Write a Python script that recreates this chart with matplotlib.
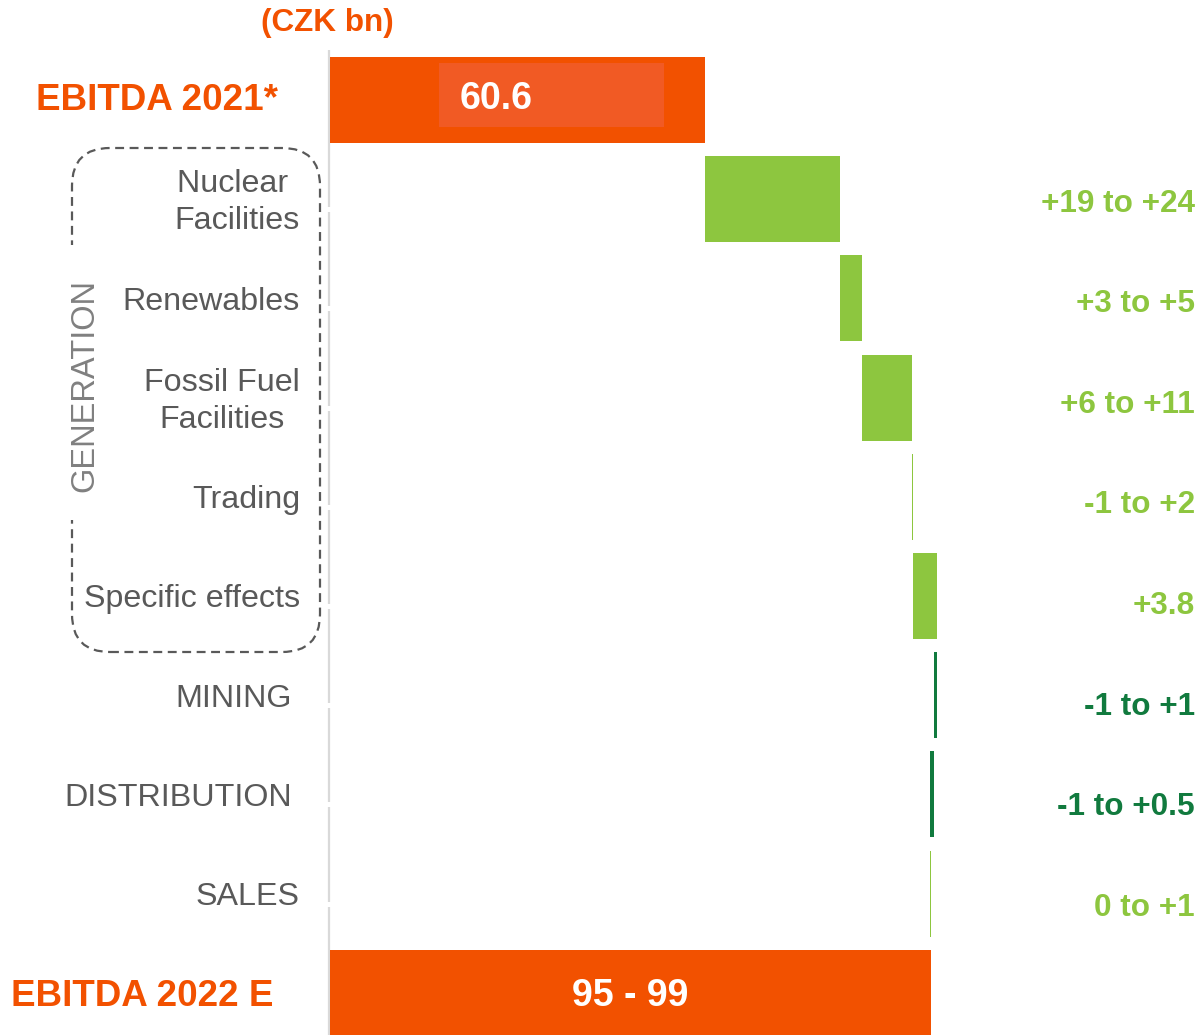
import matplotlib.pyplot as plt
from matplotlib.patches import FancyBboxPatch, Rectangle
from matplotlib.transforms import IdentityTransform

plt.rcParams['font.family'] = ['Liberation Sans', 'DejaVu Sans']

# data (CZK bn)
categories = ["EBITDA 2021*", "Nuclear \nFacilities", "Renewables", "Fossil Fuel\nFacilities",
              "Trading", "Specific effects", "MINING", "DISTRIBUTION", "SALES", "EBITDA 2022 E"]
start_value = 60.6
deltas = [21.8, 3.5, 8.1, 0.2, 3.9, -0.6, -0.6, 0.2]
end_value = 97.1
range_labels = ["+19 to +24", "+3 to +5", "+6 to +11", "-1 to +2", "+3.8",
                "-1 to +1", "-1 to +0.5", "0 to +1"]
total_labels = ["60.6", "95 - 99"]

ORANGE = "#F25100"
LIGHT_GREEN = "#8DC63F"
DARK_GREEN = "#117A3E"
GREY = "#595959"

delta_colors = [LIGHT_GREEN] * 5 + [DARK_GREEN] * 2 + [LIGHT_GREEN]

fig = plt.figure(figsize=(11.98, 10.35), dpi=100)
ax = fig.add_axes([330 / 1198, 0, 868 / 1198, 1])
ax.set_xlim(0, 868 / 6.19)
ax.set_ylim(9.425, -1.008)
ax.axis("off")

bar_h = 0.867

# totals
ax.barh(0, start_value, height=bar_h, color=ORANGE, zorder=2)
ax.barh(9, end_value, height=bar_h, color=ORANGE, zorder=2)

# deltas
left = start_value
for i, d in enumerate(deltas):
    row = i + 1
    ax.barh(row, abs(d), left=min(left, left + d), height=bar_h,
            color=delta_colors[i], zorder=2)
    left += d

# lighter box with value in first bar
ax.add_patch(Rectangle((0.29 * start_value, -0.373), 0.6 * start_value, 0.645,
                       facecolor="#F15A24", edgecolor="none", zorder=3))
ax.text(0.345 * start_value, -0.01, total_labels[0], color="white", fontsize=27,
        fontweight="bold", ha="left", va="center", zorder=4)
ax.text(end_value / 2, 9.03, total_labels[1], color="white", fontsize=27,
        fontweight="bold", ha="center", va="center", zorder=4)

# vertical axis line with small gaps
seg_edges = [-0.5]
for r in range(1, 9):
    seg_edges += [r + 0.08, r + 0.13]
seg_edges.append(9.43)
for a, b in zip(seg_edges[0::2], seg_edges[1::2]):
    ax.plot([-0.15, -0.15], [a, b], color="#D9D9D9", lw=1.6, zorder=1,
            solid_capstyle="butt", clip_on=False)

# category labels
ytr = ax.get_yaxis_transform()
ax.text(-0.0599, 0.01, categories[0], transform=ytr, color=ORANGE, fontsize=26.5,
        fontweight="bold", ha="right", va="center")
ax.text(-0.0657, 9.04, categories[9], transform=ytr, color=ORANGE, fontsize=26.5,
        fontweight="bold", ha="right", va="center")
label_x = [-0.0346, -0.0346, -0.0346, -0.0346, -0.0346, -0.0438, -0.0438, -0.0346]
for i in range(8):
    ax.text(label_x[i], i + 1.035, categories[i + 1], transform=ytr, color=GREY,
            fontsize=23.2, ha="right", va="center", multialignment="center",
            linespacing=1.3)

ax.text(-0.0035, -0.776, "(CZK bn)", transform=ytr, color=ORANGE, fontsize=22.7,
        fontweight="bold", ha="center", va="center")

# range labels on right
for i, lab in enumerate(range_labels):
    row = i + 1
    ax.text(0.9965, row + 0.03 + 0.014 * row, lab, transform=ytr, color=delta_colors[i],
            fontsize=22.7, fontweight="bold", ha="right", va="center")

# dashed rounded box around generation
H = 1035
box = FancyBboxPatch((72, H - 652), 248, 504, boxstyle="round,pad=0,rounding_size=38",
                     transform=IdentityTransform(), facecolor="none", edgecolor="#595959",
                     lw=1.6, linestyle=(0, (4, 2.5)))
fig.add_artist(box)
fig.add_artist(Rectangle((62, H - 520), 22, 275, transform=IdentityTransform(),
                         facecolor="white", edgecolor="none"))
fig.text(85 / 1198, 1 - 385 / H, "GENERATION", rotation=90, color="#808080",
         fontsize=23.5, ha="center", va="center")

fig.savefig("out.png", dpi=100)
